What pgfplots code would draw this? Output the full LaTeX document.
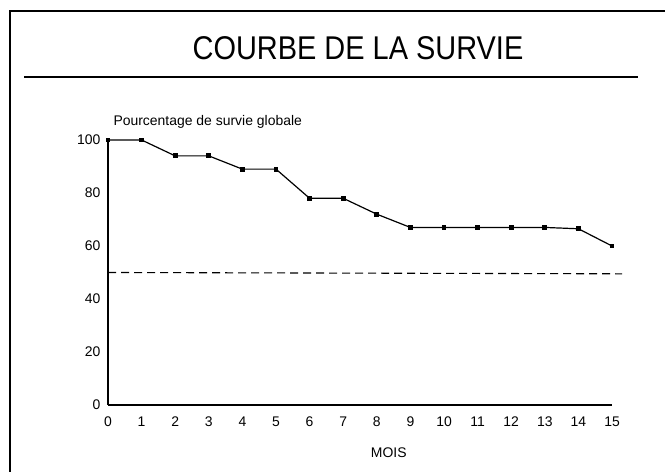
\documentclass[border=0pt]{standalone}
\usepackage{fontspec}
\setmainfont{Liberation Sans}
\usepackage{pgfplots}
\pgfplotsset{compat=1.18}
\begin{document}
\begin{tikzpicture}[x=1bp,y=1bp]
\useasboundingbox (0,0) rectangle (665,472);
\begin{scope}
\clip (0,0) rectangle (665,472);
\draw[line width=1.6bp] (10,-5) -- (10,461) -- (680,461);
\end{scope}
\node[font=\fontsize{33}{40}\selectfont, xscale=0.88] at (358,423.5) {COURBE DE LA SURVIE};
\draw[line width=1.1bp] (24,395) -- (638,395);
\begin{axis}[
  at={(108bp,67bp)}, anchor=south west,
  scale only axis, width=504bp, height=265bp,
  xmin=0, xmax=15, ymin=0, ymax=100,
  axis lines=left, axis line style={-, line width=1.1bp},
  clip=false,
  xtick={0,1,...,15}, ytick={0,20,...,100},
  major tick length=0pt,
  tick label style={font=\fontsize{14}{16}\selectfont},
  /pgf/number format/assume math mode=true,
  xticklabel style={yshift=-8bp},
  yticklabel style={xshift=-4bp},
  xlabel={MOIS},
  every axis x label/.style={at={(rel axis cs:0.557,0)}, anchor=center, yshift=-48bp, font=\fontsize{14}{16}\selectfont},
  ylabel={Pourcentage de survie globale},
  every axis y label/.style={at={(rel axis cs:0,1)}, anchor=base west, xshift=2bp, yshift=14bp, font=\fontsize{14}{17}\selectfont},
]
\addplot[black, line width=1.2bp, mark=square*, mark size=1.8bp] coordinates {
(0,100) (1,100) (2,94) (3,94) (4,89) (5,89) (6,78) (7,78) (8,72)
(9,67) (10,67) (11,67) (12,67) (13,67) (14,66.5) (15,60)
};
\addplot[black, line width=1.1bp, dash pattern=on 8bp off 5bp] coordinates {(0,50) (15.3,49.5)};
\end{axis}
\end{tikzpicture}
\end{document}
